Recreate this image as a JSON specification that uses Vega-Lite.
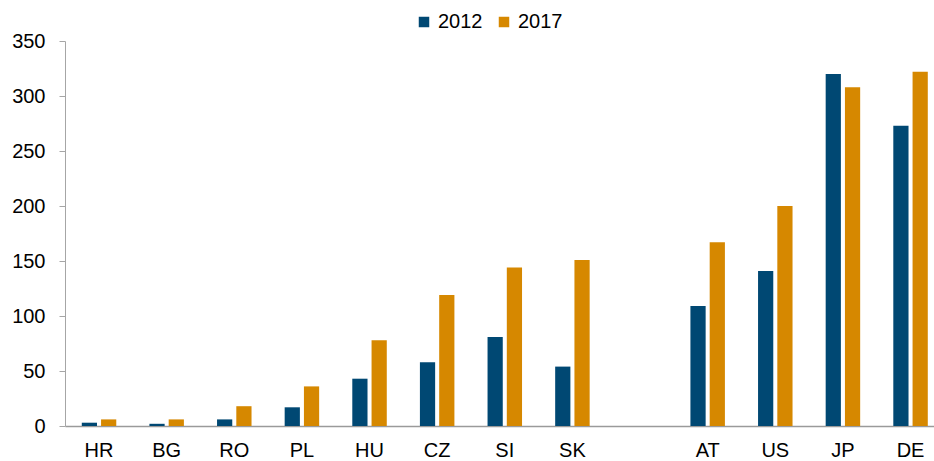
{
  "$schema": "https://vega.github.io/schema/vega-lite/v6.json",
  "width": 869,
  "height": 385,
  "autosize": "none",
  "padding": {"left": 65, "top": 41, "right": 0, "bottom": 35},
  "background": "white",
  "data": {
    "values": [
      {"country": "HR", "year": "2012", "value": 3},
      {"country": "HR", "year": "2017", "value": 6},
      {"country": "BG", "year": "2012", "value": 2},
      {"country": "BG", "year": "2017", "value": 6},
      {"country": "RO", "year": "2012", "value": 6},
      {"country": "RO", "year": "2017", "value": 18},
      {"country": "PL", "year": "2012", "value": 17},
      {"country": "PL", "year": "2017", "value": 36},
      {"country": "HU", "year": "2012", "value": 43},
      {"country": "HU", "year": "2017", "value": 78},
      {"country": "CZ", "year": "2012", "value": 58},
      {"country": "CZ", "year": "2017", "value": 119},
      {"country": "SI", "year": "2012", "value": 81},
      {"country": "SI", "year": "2017", "value": 144},
      {"country": "SK", "year": "2012", "value": 54},
      {"country": "SK", "year": "2017", "value": 151},
      {"country": "AT", "year": "2012", "value": 109},
      {"country": "AT", "year": "2017", "value": 167},
      {"country": "US", "year": "2012", "value": 141},
      {"country": "US", "year": "2017", "value": 200},
      {"country": "JP", "year": "2012", "value": 320},
      {"country": "JP", "year": "2017", "value": 308},
      {"country": "DE", "year": "2012", "value": 273},
      {"country": "DE", "year": "2017", "value": 322}
    ]
  },
  "mark": {"type": "bar"},
  "encoding": {
    "x": {
      "field": "country",
      "type": "nominal",
      "scale": {
        "domain": ["HR", "BG", "RO", "PL", "HU", "CZ", "SI", "SK", " ", "AT", "US", "JP", "DE"],
        "paddingInner": 0.49,
        "paddingOuter": 0.17,
        "align": 0.73
      },
      "axis": {
        "title": null,
        "ticks": false,
        "labelAngle": 0,
        "labelPadding": 14,
        "labelFontSize": 20,
        "labelColor": "#000000",
        "labelFont": "Liberation Sans",
        "domainColor": "#9a9a9a",
        "domainWidth": 1.5
      }
    },
    "xOffset": {
      "field": "year",
      "type": "nominal",
      "scale": {"domain": ["2012", "2017"], "paddingInner": 0.21}
    },
    "y": {
      "field": "value",
      "type": "quantitative",
      "scale": {"domain": [0, 350], "nice": false},
      "axis": {
        "title": null,
        "values": [0, 50, 100, 150, 200, 250, 300, 350],
        "grid": false,
        "tickSize": 6,
        "tickColor": "#a6a6a6",
        "domainColor": "#a6a6a6",
        "labelPadding": 14,
        "labelFontSize": 20,
        "labelColor": "#000000",
        "labelFont": "Liberation Sans"
      }
    },
    "color": {
      "field": "year",
      "type": "nominal",
      "scale": {"domain": ["2012", "2017"], "range": ["#004873", "#d68800"]},
      "legend": {
        "title": null,
        "orient": "none",
        "direction": "horizontal",
        "legendX": 349,
        "legendY": -29,
        "symbolType": "square",
        "symbolSize": 110,
        "symbolStrokeWidth": 0,
        "symbolOpacity": 1,
        "labelFontSize": 20,
        "labelFont": "Liberation Sans",
        "labelColor": "#000000",
        "labelOffset": 4,
        "columnPadding": 11,
        "padding": 0
      }
    }
  },
  "config": {
    "view": {"stroke": null},
    "font": "Liberation Sans"
  }
}
